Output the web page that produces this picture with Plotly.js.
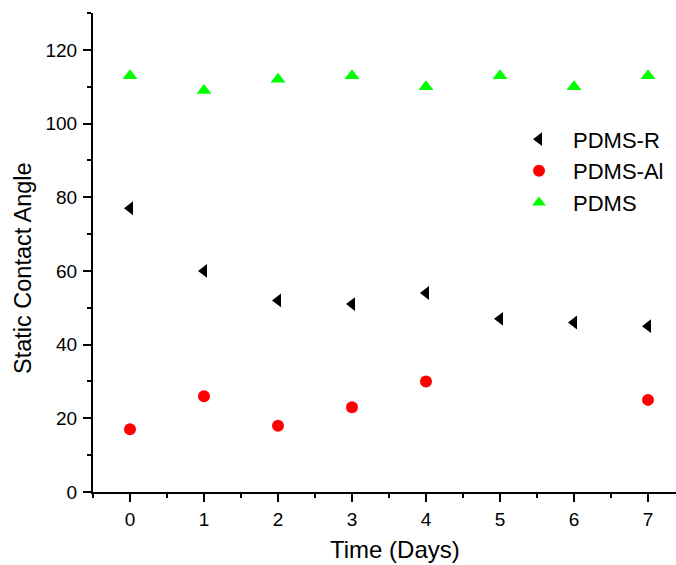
<!DOCTYPE html>
<html>
<head>
<meta charset="utf-8">
<script src="https://cdn.plot.ly/plotly-3.0.1.min.js"></script>
<style>html,body{margin:0;padding:0;background:#fff;overflow:hidden;width:676px;height:565px;}#chart{width:685px;height:565px;}</style>
</head>
<body>
<div id="chart"></div>
<script>
const days = [0, 1, 2, 3, 4, 5, 6, 7];
const pdmsR = [77, 60, 52, 51, 54, 47, 46, 45];
const pdmsAlDays = [0, 1, 2, 3, 4, 7];
const pdmsAl = [17, 26, 18, 23, 30, 25];
const pdms = [113, 109, 112, 113, 110, 113, 110, 113];
const seriesNames = ['PDMS-R', 'PDMS-Al', 'PDMS'];
const xTitle = 'Time (Days)';
const yTitle = 'Static Contact Angle';

const traces = [
  {x: days, y: pdmsR, name: seriesNames[0], type: 'scatter', mode: 'markers',
   marker: {symbol: 'triangle-left', color: '#000000', size: 12}},
  {x: pdmsAlDays, y: pdmsAl, name: seriesNames[1], type: 'scatter', mode: 'markers',
   marker: {symbol: 'circle', color: '#ff0000', size: 12}},
  {x: days, y: pdms, name: seriesNames[2], type: 'scatter', mode: 'markers',
   marker: {symbol: 'triangle-up', color: '#00ff00', size: 13}}
];

const fam = 'Arial, Liberation Sans, sans-serif';
const axisFont = {family: fam, size: 19, color: '#000'};
const W = 685, ML = 93, MT = 13, MB = 73, H = 565;
const pw = W - ML, ph = H - MT - MB;
const layout = {
  width: W, height: H,
  margin: {l: ML, r: 0, t: MT, b: MB},
  paper_bgcolor: '#fff', plot_bgcolor: '#fff',
  showlegend: true,
  legend: {x: (505 - ML) / pw, y: 0.78, xanchor: 'left', yanchor: 'top',
    font: {family: fam, size: 22, color: '#000'},
    bgcolor: 'rgba(0,0,0,0)', itemsizing: 'constant', itemwidth: 58, tracegroupgap: 0},
  xaxis: {
    range: [-0.5, 7.5], tick0: 0, dtick: 1, showgrid: false, zeroline: false,
    showline: true, linecolor: '#000', linewidth: 2, mirror: false,
    ticks: 'outside', ticklen: 8, tickwidth: 2, tickcolor: '#000',
    tickfont: axisFont, ticklabelstandoff: 1,
    minor: {dtick: 0.5, tick0: 0, ticks: 'outside', ticklen: 4, tickwidth: 2, tickcolor: '#000', showgrid: false}
  },
  yaxis: {
    range: [0, 130], tick0: 0, dtick: 20, showgrid: false, zeroline: false,
    showline: true, linecolor: '#000', linewidth: 2,
    ticks: 'outside', ticklen: 8, tickwidth: 2, tickcolor: '#000',
    tickfont: axisFont, ticklabelstandoff: 2,
    minor: {dtick: 10, tick0: 0, ticks: 'outside', ticklen: 4, tickwidth: 2, tickcolor: '#000', showgrid: false}
  },
  annotations: [
    {text: xTitle, xref: 'paper', yref: 'paper', x: (395 - ML) / pw, y: 1 - (549 - MT) / ph,
     xanchor: 'center', yanchor: 'middle', showarrow: false, borderpad: 0,
     font: {family: fam, size: 24, color: '#000'}},
    {text: yTitle, xref: 'paper', yref: 'paper', x: (23 - ML) / pw, y: 1 - (268 - MT) / ph,
     xanchor: 'center', yanchor: 'middle', showarrow: false, textangle: -90,
     font: {family: fam, size: 23.5, color: '#000'}}
  ]
};

Plotly.newPlot('chart', traces, layout, {displayModeBar: false, staticPlot: true});
</script>
</body>
</html>
